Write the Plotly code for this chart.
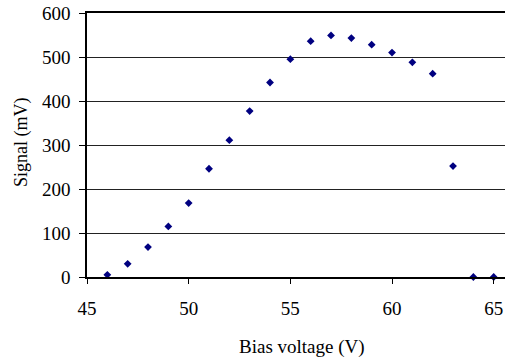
import plotly.graph_objects as go

bias_voltage = [46, 47, 48, 49, 50, 51, 52, 53, 54, 55, 56, 57, 58, 59, 60, 61, 62, 63, 64, 65]
signal_mv = [5, 30, 68, 115, 168, 246, 311, 377, 442, 495, 536, 549, 543, 528, 510, 488, 462, 252, 0, 0]
x_ticks = [45, 50, 55, 60, 65]
y_ticks = [0, 100, 200, 300, 400, 500, 600]

font_family = "Liberation Serif, Times New Roman, serif"

W, H = 505, 360
ML, MT, MB = 87, 13, 83

fig = go.Figure()
fig.add_trace(go.Scatter(
    x=bias_voltage, y=signal_mv, mode="markers",
    marker=dict(symbol="diamond", size=6, color="#000080", line=dict(width=0)),
    cliponaxis=False, showlegend=False,
))

plot_w = W - ML
plot_h = H - MT - MB

def px_to_paper(px, py):
    return (px - ML) / plot_w, (H - MB - py) / plot_h

tx, ty = px_to_paper(302, 347)
sx, sy = px_to_paper(21, 142)

fig.update_layout(
    width=W, height=H,
    margin=dict(l=ML, r=0, t=MT, b=MB, pad=0),
    paper_bgcolor="white", plot_bgcolor="white",
    font=dict(family=font_family, size=19, color="black"),
    xaxis=dict(
        range=[45, 65.556], tickvals=x_ticks, ticktext=[str(v) for v in x_ticks],
        showgrid=False, zeroline=False,
        showline=True, linecolor="black", linewidth=1.5, mirror=True,
        ticks="outside", ticklen=5, tickcolor="black", tickwidth=1,
        ticklabelstandoff=8, ticklabeloverflow="allow",
        tickfont=dict(family=font_family, size=19, color="black"),
    ),
    yaxis=dict(
        range=[0, 600], tickvals=y_ticks, ticktext=[str(v) for v in y_ticks],
        showgrid=True, gridcolor="#222222", gridwidth=1, zeroline=False,
        showline=True, linecolor="black", linewidth=1.5,
        ticks="outside", ticklen=6, tickcolor="black", tickwidth=1,
        ticklabelstandoff=5, ticklabeloverflow="allow",
        tickfont=dict(family=font_family, size=19, color="black"),
    ),
    annotations=[
        dict(text="Bias voltage (V)", x=tx, y=ty, xref="paper", yref="paper",
             showarrow=False, font=dict(family=font_family, size=19, color="black"),
             xanchor="center", yanchor="middle"),
        dict(text="Signal (mV)", x=sx, y=sy, xref="paper", yref="paper",
             showarrow=False, textangle=-90, font=dict(family=font_family, size=18, color="black"),
             xanchor="center", yanchor="middle"),
    ],
)

fig.write_html(
    "out.html",
    config={"displayModeBar": False},
    post_script="document.body.style.margin='0';document.body.style.overflow='hidden';",
)
